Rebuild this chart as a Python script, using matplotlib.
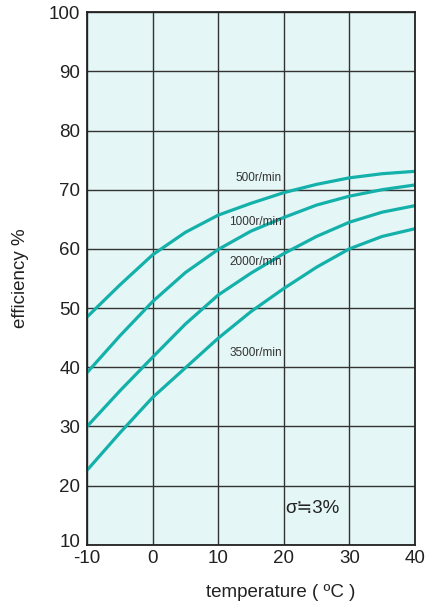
import matplotlib
matplotlib.use("Agg")
import matplotlib.pyplot as plt
from matplotlib.transforms import ScaledTranslation

plt.rcParams['font.family'] = ['Liberation Sans', 'DejaVu Sans']
plt.rcParams['axes.unicode_minus'] = False

# temperature (C) and efficiency (%)
temp = [-10, -5, 0, 5, 10, 15, 20, 25, 30, 35, 40]
eff_500 = [48.5, 53.9, 59.0, 62.8, 65.7, 67.7, 69.5, 70.9, 72.0, 72.7, 73.1]
eff_1000 = [39.1, 45.3, 51.1, 56.0, 59.9, 63.0, 65.3, 67.4, 68.9, 70.0, 70.8]
eff_2000 = [30.0, 36.0, 41.7, 47.3, 52.2, 55.9, 59.2, 62.1, 64.5, 66.2, 67.3]
eff_3500 = [22.6, 28.9, 34.9, 39.9, 44.9, 49.4, 53.3, 56.9, 60.0, 62.1, 63.4]
speed_labels = ["500r/min", "1000r/min", "2000r/min", "3500r/min"]
label_y = [71.9, 64.5, 57.7, 42.4]

teal = "#14b0aa"
ink = "#222222"

fig = plt.figure(figsize=(4.29, 6.08), dpi=100)
ax = fig.add_axes([0.203, 0.104, 0.764, 0.876])
ax.set_facecolor("#e5f6f6")

for series in [eff_500, eff_1000, eff_2000, eff_3500]:
    ax.plot(temp, series, color=teal, lw=2.3, solid_joinstyle="round")

for lab, yy in zip(speed_labels, label_y):
    ax.text(19.7, yy, lab, ha="right", va="center", fontsize=8.5, color="#333333")

ax.text(20.3, 16.1, "σ≒3%", ha="left", va="center", fontsize=13.5, color=ink)

ax.set_xlim(-10, 40)
ax.set_ylim(10, 100)
ax.set_xticks(range(-10, 41, 10))
ax.set_yticks(range(10, 101, 10))
ax.tick_params(axis="x", length=0, labelsize=13.5, colors=ink, pad=3.5)
ax.tick_params(axis="y", length=0, labelsize=13.5, colors=ink, pad=5)
ax.grid(True, color="#333333", lw=1.0)
ax.set_axisbelow(True)
for s in ax.spines.values():
    s.set_color(ink)
    s.set_linewidth(1.3)

# lift the bottom y label a little so it clears "-10"
fig.canvas.draw()
lbl = ax.get_yticklabels()[0]
lbl.set_transform(lbl.get_transform() + ScaledTranslation(0, 3 / 72, fig.dpi_scale_trans))

ax.set_xlabel("temperature ( ºC )", fontsize=13.5, color=ink)
ax.set_ylabel("efficiency %", fontsize=13.5, color=ink)
ax.xaxis.set_label_coords(0.59, -0.09)
ax.yaxis.set_label_coords(-0.204, 0.5)
ax.xaxis.label.set_va("center")
ax.yaxis.label.set_va("center")

fig.savefig("out.png", dpi=100)
